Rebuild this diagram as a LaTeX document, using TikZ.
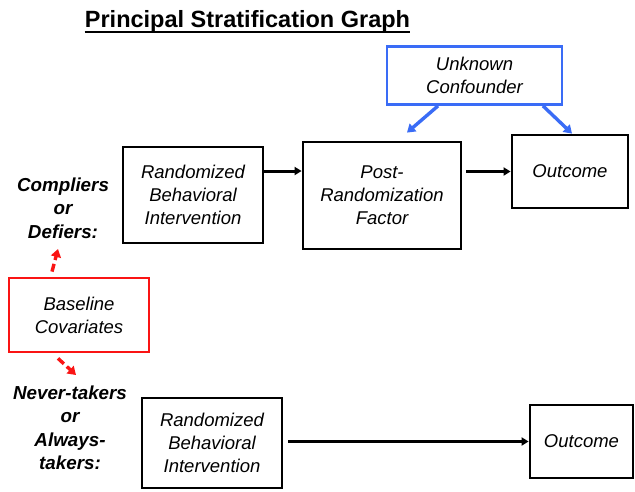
\documentclass[tikz,border=0pt]{standalone}
\usepackage{fontspec}
\setmainfont{Liberation Sans}
\usetikzlibrary{arrows.meta}
\definecolor{cblue}{RGB}{58,108,246}
\definecolor{cred}{RGB}{250,20,20}
\tikzset{
  box/.style={draw=black, line width=2.8pt, fill=white, align=center, inner sep=0pt,
    font=\fontsize{18.5}{23}\selectfont\itshape},
  bluebox/.style={box, draw=cblue},
  redbox/.style={box, draw=cred},
  lab/.style={align=center, inner sep=0pt, font=\fontsize{18.8}{23.5}\selectfont\bfseries\itshape},
  arr/.style={draw=black, line width=3pt, -{Triangle[length=7pt,width=8pt]}},
  barr/.style={draw=cblue, line width=3.4pt, -{Triangle[length=8pt,width=10pt]}},
  rarr/.style={draw=cred, line width=3.4pt, dash pattern=on 8pt off 4pt, -{Triangle[length=8pt,width=10pt]}}
}
\begin{document}
\begin{tikzpicture}[x=1pt,y=-1pt]
\useasboundingbox[fill=white] (0,0) rectangle (635,491);
% title
\node[anchor=base, inner sep=0pt, font=\fontsize{23.5}{28}\selectfont\bfseries] (title) at (247.5,27) {Principal Stratification Graph};
\draw[line width=1.6pt] ([yshift=-5pt]title.base west) -- ([yshift=-5pt]title.base east);
% boxes
\node[bluebox, minimum width=175pt, minimum height=58pt] (unk) at (474.5,75.5) {Unknown\\Confounder};
\node[box, minimum width=140pt, minimum height=96pt] (rbi1) at (193,195) {Randomized\\Behavioral\\Intervention};
\node[box, minimum width=158pt, minimum height=107pt] (prf) at (382,195.5) {Post-\\Randomization\\Factor};
\node[box, minimum width=116pt, minimum height=73pt] (out1) at (570,171.5) {Outcome};
\node[redbox, minimum width=140pt, minimum height=74pt] (base) at (79,315) {Baseline\\Covariates};
\node[box, minimum width=140pt, minimum height=90pt] (rbi2) at (212,443) {Randomized\\Behavioral\\Intervention};
\node[box, minimum width=103pt, minimum height=73pt] (out2) at (581.5,441.5) {Outcome};
% labels
\node[lab] (cd) at (63,208) {Compliers\\or\\Defiers:};
\node[lab] (na) at (70,428) {Never-takers\\or\\Always-\\takers:};
% connectors
\draw[arr] ([yshift=24pt]rbi1.east) -- ([yshift=24pt]rbi1.east -| prf.west);
\draw[arr] ([xshift=4pt]prf.east |- out1.west) -- (out1.west);
\draw[arr] ([xshift=5pt]rbi2.east |- out2.west) -- (out2.west);
\draw[barr] ([xshift=-36.5pt]unk.south) -- ([xshift=25pt,yshift=8pt]prf.north);
\draw[barr] ([xshift=68.5pt]unk.south) -- ([xshift=2pt]out1.north);
\coordinate (upend) at (58,249);
\coordinate (downend) at (76,375);
\draw[rarr] ([xshift=-27pt,yshift=5pt]base.north) -- (upend);
\draw[rarr] ([xshift=-21pt,yshift=-5pt]base.south) -- (downend);
\end{tikzpicture}
\end{document}
